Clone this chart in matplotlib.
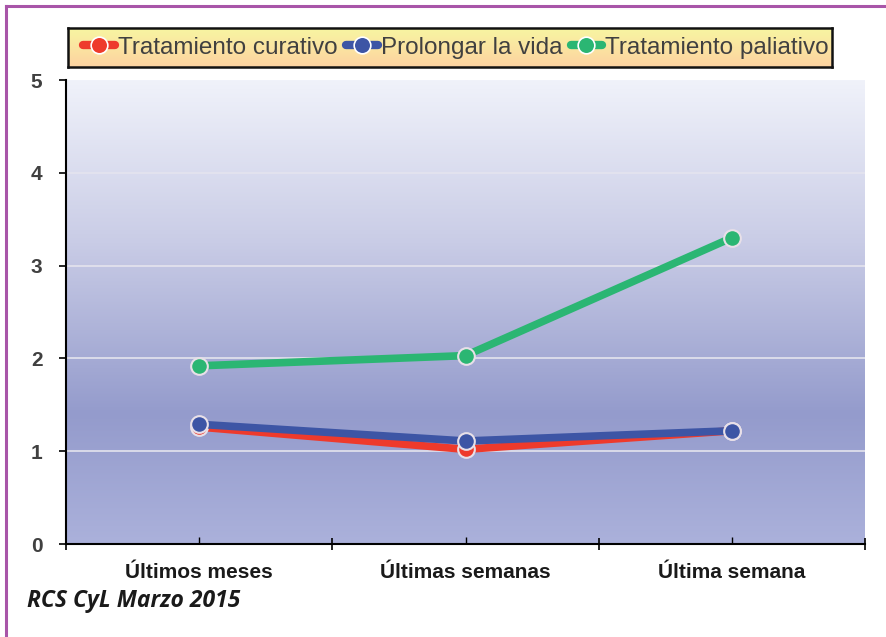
import numpy as np
import matplotlib
matplotlib.use("Agg")
import matplotlib.pyplot as plt
from matplotlib.colors import LinearSegmentedColormap
from matplotlib.lines import Line2D

categories = ["Últimos meses", "Últimas semanas", "Última semana"]
series_names = ["Tratamiento curativo", "Prolongar la vida", "Tratamiento paliativo"]
curativo = [1.26, 1.02, 1.22]
prolongar = [1.29, 1.11, 1.22]
paliativo = [1.92, 2.03, 3.30]
y_ticks = [0, 1, 2, 3, 4, 5]
source = "RCS CyL Marzo 2015"

colors = ["#ee3a2c", "#3d55a5", "#2bb673"]
text_col = "#404040"

W, H = 886, 637
fig = plt.figure(figsize=(W / 100, H / 100), dpi=100)
fig.patch.set_facecolor("white")

def fx(px):
    return px / W

def fy(py):
    return 1 - py / H

# purple frame lines
fig.add_artist(Line2D([fx(6), fx(886)], [fy(6), fy(6)], color="#a855a8", lw=2.2, transform=fig.transFigure))
fig.add_artist(Line2D([fx(6), fx(6)], [fy(6), fy(637)], color="#a855a8", lw=2.2, transform=fig.transFigure))

left, right, top, bottom = 66, 865, 80, 544
ax = fig.add_axes([fx(left), fy(bottom), fx(right - left), (bottom - top) / H])

# gradient background (row 0 = top)
grad_cmap = LinearSegmentedColormap.from_list(
    "bg",
    [(0.0, "#f0f2fa"), (0.35, "#c9cce6"), (0.72, "#949bcc"), (1.0, "#abb1db")],
)
g = np.linspace(0, 1, 256).reshape(-1, 1)
ax.imshow(g, cmap=grad_cmap, aspect="auto", extent=[0, 3, 0, 5], origin="upper", zorder=0)

x = np.arange(len(categories)) + 0.5
for yv in [1, 2, 3, 4]:
    ax.axhline(yv, color="#e4e4ee", lw=1.2, zorder=1)

for vals, c, lbl in [(curativo, colors[0], series_names[0]),
                     (prolongar, colors[1], series_names[1]),
                     (paliativo, colors[2], series_names[2])]:
    ax.plot(x, vals, color=c, lw=5.5, marker="o", ms=12, mfc=c,
            mec="#e8e0e8", mew=1.5, zorder=3, label=lbl, solid_capstyle="round")

ax.set_xlim(0, 3)
ax.set_ylim(0, 5)
ax.set_yticks(y_ticks)
ax.set_yticklabels([str(v) for v in y_ticks], fontsize=15, fontweight="bold",
                   color=text_col, family=["Liberation Sans"])
ax.set_xticks([0, 1, 2, 3])
ax.set_xticklabels([])
ax.set_xticks(x, minor=True)
ax.tick_params(axis="x", which="major", direction="inout", length=8, width=1.2, color="black")
ax.tick_params(axis="x", which="minor", direction="in", length=5, width=1.0, color="black")
ax.tick_params(axis="y", which="major", direction="out", length=5, width=1.2, color="black", pad=12)
for s in ["top", "right"]:
    ax.spines[s].set_visible(False)
ax.spines["left"].set_linewidth(1.5)
ax.spines["bottom"].set_linewidth(1.5)

for xi, cat in zip(x, categories):
    ax.text(xi, -0.2, cat, ha="center", va="top", fontsize=15, fontweight="bold",
            color="#1a1a1a", family=["Liberation Sans"], transform=ax.transData)

fig.text(fx(27), fy(601), source, ha="left", va="center", fontsize=16.5,
         fontweight="bold", fontstyle="italic", color="#1a1a1a",
         family=["Open Sans", "DejaVu Sans"])

# legend box with gradient
lx0, lx1, ly0, ly1 = 68, 832, 28, 67
lax = fig.add_axes([fx(lx0), fy(ly1), fx(lx1 - lx0), (ly1 - ly0) / H])
leg_cmap = LinearSegmentedColormap.from_list("lg", ["#f8f6a2", "#fdd2a0"])
lax.imshow(g, cmap=leg_cmap, aspect="auto", extent=[0, 1, 0, 1], origin="upper")
lax.set_xlim(0, 1)
lax.set_ylim(0, 1)
lax.set_xticks([])
lax.set_yticks([])
for s in lax.spines.values():
    s.set_linewidth(1.8)
    s.set_color("#111111")

handles = [Line2D([0], [0], color=c, lw=6, marker="o", ms=12, mfc=c, mec="white", mew=1.2,
                  solid_capstyle="round") for c in colors]
leg = lax.legend(handles, series_names, loc="center", ncol=3, frameon=False,
                 handlelength=1.3, handletextpad=0.12, columnspacing=0.35,
                 prop={"family": "Liberation Sans", "size": 17.5},
                 bbox_to_anchor=(0.508, 0.5))
for t in leg.get_texts():
    t.set_color(text_col)

fig.savefig("out.png", dpi=100, facecolor="white")
